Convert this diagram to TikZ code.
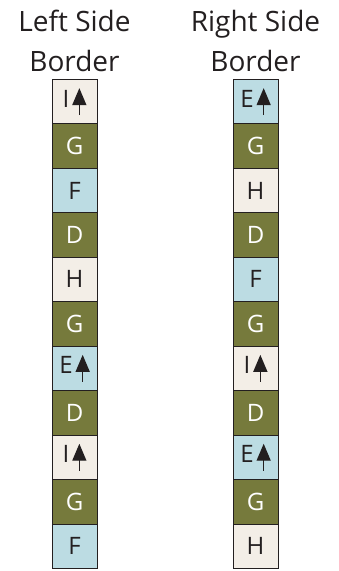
\documentclass[tikz,border=0pt]{standalone}
\usepackage{fontspec}
\setmainfont{Open Sans}
\usetikzlibrary{positioning,arrows.meta}
\definecolor{cream}{HTML}{F3EEE7}
\definecolor{olive}{HTML}{767A3C}
\definecolor{pale}{HTML}{BCDCE3}
\definecolor{ink}{HTML}{231F20}
\newcommand{\uptip}{\hspace{3pt}\tikz[baseline=0pt]\draw[ink,line width=1.4pt,-{Triangle[length=17pt,width=14pt]}] (0,-8pt) -- (0,19pt);}

\begin{document}
\begin{tikzpicture}[x=1pt,y=1pt,
  block/.style={draw=ink,line width=0.8pt,minimum width=45pt,minimum height=44.45pt,
    inner sep=0pt,anchor=north,font=\fontsize{24}{26}\selectfont,text=ink},
  creamblock/.style={block,fill=cream},
  oliveblock/.style={block,fill=olive,text=white},
  paleblock/.style={block,fill=pale},
  heading/.style={align=center,text=ink,font=\fontsize{28}{40}\selectfont,anchor=base}]
\useasboundingbox (0,0) rectangle (339,-571);

% headings
\node[heading] (lhead) at (74.5,-71) {Left Side\\Border};
\node[heading] (rhead) at (255.5,-71) {Right Side\\Border};

% left side strip
\foreach \lbl/\kind [count=\i] in {I\uptip/cream,G/olive,F/pale,D/olive,H/cream,G/olive,
    E\uptip/pale,D/olive,I\uptip/cream,G/olive,F/pale}
  \node[\kind block] (l\i) at (74.5,{-79-44.45*(\i-1)}) {\lbl};

% right side strip
\foreach \lbl/\kind [count=\i] in {E\uptip/pale,G/olive,H/cream,D/olive,F/pale,G/olive,
    I\uptip/cream,D/olive,E\uptip/pale,G/olive,H/cream}
  \node[\kind block] (r\i) at (255.5,{-79-44.45*(\i-1)}) {\lbl};
\end{tikzpicture}
\end{document}
